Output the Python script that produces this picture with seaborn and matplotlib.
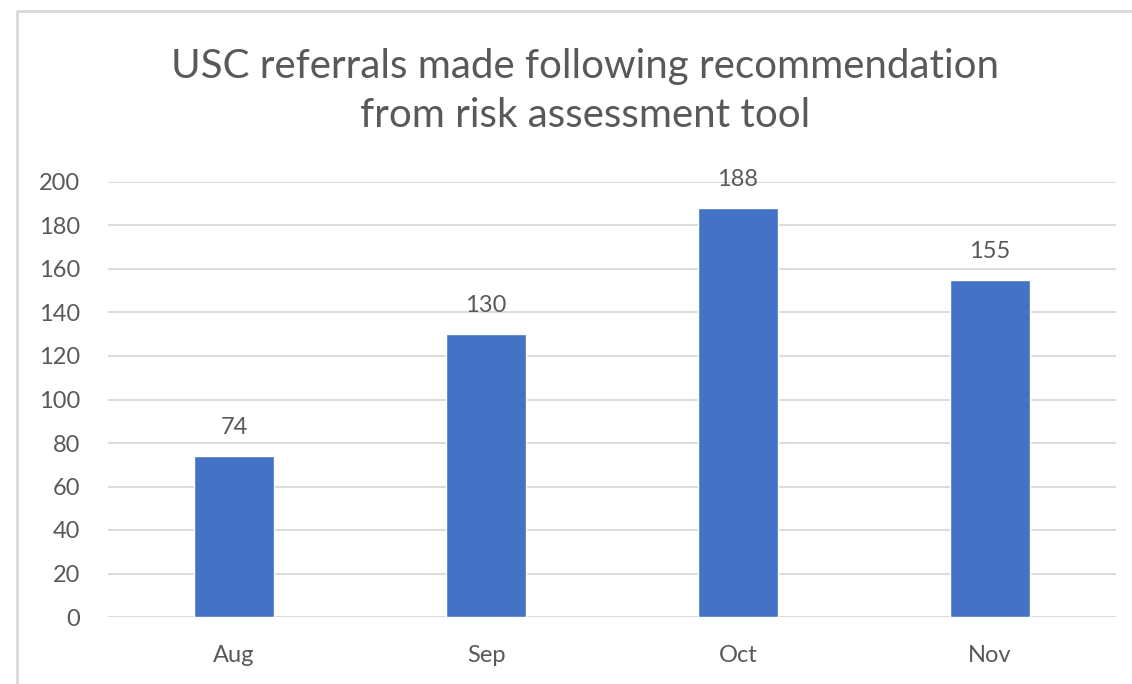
import matplotlib
matplotlib.use("Agg")
import matplotlib.pyplot as plt
import seaborn as sns
import pandas as pd
from matplotlib.lines import Line2D

months = ["Aug", "Sep", "Oct", "Nov"]
referrals = [74, 130, 188, 155]
yticks = [0, 20, 40, 60, 80, 100, 120, 140, 160, 180, 200]
title = "USC referrals made following recommendation\nfrom risk assessment tool"

sns.set_theme(style="white")
plt.rcParams["font.family"] = ["Lato", "DejaVu Sans"]

df = pd.DataFrame({"month": months, "referrals": referrals})

W, H = 1132, 684
fig = plt.figure(figsize=(W / 100, H / 100), dpi=100)
ax = fig.add_axes([108 / W, 1 - 617 / H, (1116 - 108) / W, (617 - 182) / H])

text_c = "#595959"
sns.barplot(data=df, x="month", y="referrals", color="#4472C4", width=0.32,
            saturation=1, ax=ax, zorder=3)
ax.set_ylim(0, 200)
ax.set_xlim(-0.5, 3.5)
ax.set_yticks(yticks)
ax.yaxis.grid(True, color="#D9D9D9", linewidth=1.3, zorder=0)
ax.set_axisbelow(True)
for s in ax.spines.values():
    s.set_visible(False)
ax.set_xlabel("")
ax.set_ylabel("")
ax.tick_params(axis="both", length=0, labelsize=17, colors=text_c)
ax.tick_params(axis="y", pad=20)
ax.tick_params(axis="x", pad=20)
for c in ax.containers:
    ax.bar_label(c, labels=[str(v) for v in referrals], padding=13,
                 fontsize=17, color=text_c)

fig.text(0.517, 1 - 91 / H, title, ha="center", va="center",
         fontsize=29, color=text_c, linespacing=1.42)

# outer chart border
fig.add_artist(Line2D([17 / W, 17 / W], [0, 1 - 11 / H], color="#D9D9D9",
                      linewidth=2, transform=fig.transFigure))
fig.add_artist(Line2D([17 / W, 1], [1 - 11 / H, 1 - 11 / H], color="#D9D9D9",
                      linewidth=2, transform=fig.transFigure))

fig.savefig("out.png", dpi=100)
